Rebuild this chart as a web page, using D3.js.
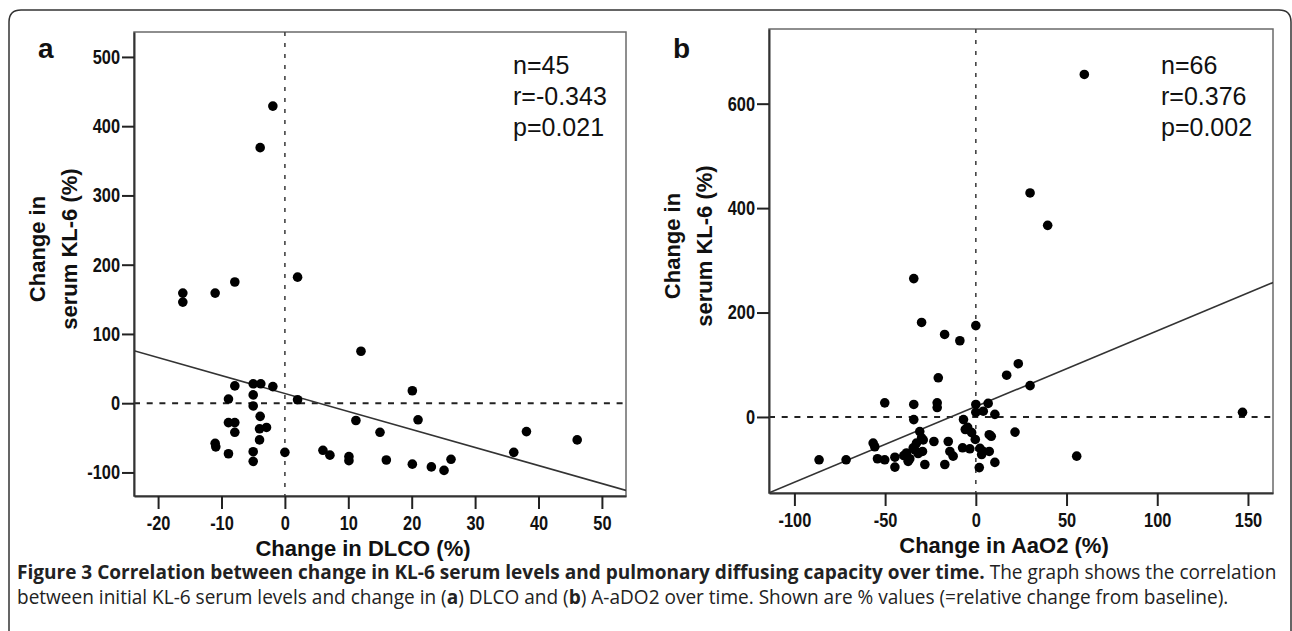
<!DOCTYPE html>
<html>
<head>
<meta charset="utf-8">
<script src="https://cdn.jsdelivr.net/npm/d3@7.9.0/dist/d3.min.js"></script>
<style>
  body { margin: 0; background: #fff; }
  svg { display: block; }
  .tick text {
    font-family: "Liberation Sans", Arial, sans-serif;
    font-weight: bold;
    font-size: 20px;
    fill: #111;
  }
  .axis-title { font-family: "Liberation Sans", Arial, sans-serif; font-weight: bold; font-size: 22px; fill: #111; }
  .stats { font-family: "Liberation Sans", Arial, sans-serif; font-size: 25px; fill: #111; }
  .panel-label { font-family: "Liberation Sans", Arial, sans-serif; font-weight: bold; font-size: 28px; fill: #111; }
  .caption { font-family: "Open Sans", "Noto Sans", sans-serif; fill: #222; }
</style>
</head>
<body>
<svg id="fig" width="1292" height="631"></svg>
<script>
// Panel a: change in DLCO (%) vs change in serum KL-6 (%)
const dlcoChange = [-1.9, -3.9, -16.1, -16.1, -11, -7.9, 2.0, -7.9, -5.0, -3.8,
  -1.9, -8.9, -5.0, -5.0, 2.0, -8.9, -7.9, -7.9, -3.9, -4.0,
  -2.9, -4.0, -11.0, -10.9, -8.9, -5.0, -5.0, 0, 12, 20.1,
  11.2, 21, 15, 6, 7.1, 10.1, 10.1, 16, 20.1, 23.1,
  25.1, 26.2, 36.1, 38.1, 46.1];
const kl6ChangeA = [429, 369, 159, 146, 159, 175, 182, 25, 28, 28,
  24, 6, 12, -4, 5, -28, -28, -42, -19, -37,
  -35, -53, -58, -63, -73, -70, -84, -71, 75, 18,
  -25, -24, -42, -68, -75, -77, -83, -82, -88, -92,
  -97, -81, -71, -41, -53];

// Panel b: change in AaO2 (%) vs change in serum KL-6 (%)
const aao2Change = [59.8, 29.9, 39.6, -34.2, -29.9, -17.2, -8.8, 0, 23.4, 17,
  29.9, -20.7, 147, 55.6, 21.6, -50.2, -34.2, -21.3, -21.3, -34.2,
  0, 0, 6.8, 4.1, 10.5, -6.8, -5.8, -2.3, -0.3, 7.4,
  8.5, -30.9, -29.9, -29, -32.7, -23.1, -15.2, -34.5, -33.6, -29.4,
  -56.6, -55.7, -38.2, -39.7, -36.4, -37.3, -44.6, -44.6, -54.2, -50.2,
  -28.1, -17.1, -14.3, -12.5, -7.3, -3.3, 2.3, 4.1, 7.4, 3.2,
  10.5, 1.9, -86.4, -71.5, -31.8, -4.5];
const kl6ChangeB = [656, 429, 367, 265, 181, 158, 146, 175, 102, 80,
  60, 75, 9, -75, -29, 27, 24, 27, 18, -5,
  24, 9, 26, 11, 5, -5, -24, -30, -43, -34,
  -37, -28, -40, -44, -50, -47, -47, -59, -63, -66,
  -50, -57, -69, -74, -80, -85, -77, -96, -80, -82,
  -91, -91, -66, -75, -59, -61, -60, -66, -66, -72,
  -87, -97, -82, -82, -70, -20];

const xTicksA = [-20, -10, 0, 10, 20, 30, 40, 50];
const yTicksA = [-100, 0, 100, 200, 300, 400, 500];
const xTicksB = [-100, -50, 0, 50, 100, 150];
const yTicksB = [0, 200, 400, 600];

const statsA = ['n=45', 'r=-0.343', 'p=0.021'];
const statsB = ['n=66', 'r=0.376', 'p=0.002'];

// regression lines: [intercept, slope]
const fitA = [14, -2.6];
const fitB = [20, 1.45];

const svg = d3.select('#fig');

// outer frame with rounded top corners
svg.append('path')
  .attr('d', 'M9,640 L9,22 Q9,10 21,10 L1279,10 Q1291,10 1291,22 L1291,640')
  .attr('fill', 'none')
  .attr('stroke', '#333')
  .attr('stroke-width', 1.5);

const panels = [
  {
    label: 'a', xs: dlcoChange, ys: kl6ChangeA, fit: fitA, stats: statsA,
    xTicks: xTicksA, yTicks: yTicksA,
    xDomain: [-23.8, 53.8], yDomain: [-134, 536],
    left: 134, right: 626, top: 32, bottom: 496,
    xTitle: 'Change in DLCO (%)', statsX: 513
  },
  {
    label: 'b', xs: aao2Change, ys: kl6ChangeB, fit: fitB, stats: statsB,
    xTicks: xTicksB, yTicks: yTicksB,
    xDomain: [-114, 163.8], yDomain: [-145.6, 743],
    left: 769, right: 1273, top: 29, bottom: 493,
    xTitle: 'Change in AaO2 (%)', statsX: 1161
  }
];

// tick labels are a narrow face: squeeze them horizontally
const squeeze = 0.82;

panels.forEach((p, idx) => {
  const x = d3.scaleLinear().domain(p.xDomain).range([p.left, p.right]);
  const y = d3.scaleLinear().domain(p.yDomain).range([p.bottom, p.top]);
  const g = svg.append('g');

  const clipId = 'clip' + idx;
  svg.append('clipPath').attr('id', clipId)
    .append('rect')
    .attr('x', p.left).attr('y', p.top)
    .attr('width', p.right - p.left).attr('height', p.bottom - p.top);

  // plot frame
  g.append('rect')
    .attr('x', p.left).attr('y', p.top)
    .attr('width', p.right - p.left).attr('height', p.bottom - p.top)
    .attr('fill', 'none')
    .attr('stroke', '#6a6a6a')
    .attr('stroke-width', 1.5);

  // dashed reference lines at zero
  g.append('line')
    .attr('x1', x(0)).attr('x2', x(0))
    .attr('y1', p.top).attr('y2', p.bottom)
    .attr('stroke', '#444').attr('stroke-width', 1.6)
    .attr('stroke-dasharray', '4,7');
  g.append('line')
    .attr('x1', p.left).attr('x2', p.right)
    .attr('y1', y(0)).attr('y2', y(0))
    .attr('stroke', '#222').attr('stroke-width', 2)
    .attr('stroke-dasharray', '6,6.7');

  // regression line
  const [b0, b1] = p.fit;
  g.append('line')
    .attr('clip-path', `url(#${clipId})`)
    .attr('x1', x(p.xDomain[0])).attr('y1', y(b0 + b1 * p.xDomain[0]))
    .attr('x2', x(p.xDomain[1])).attr('y2', y(b0 + b1 * p.xDomain[1]))
    .attr('stroke', '#333').attr('stroke-width', 1.6);

  // points
  g.append('g')
    .selectAll('circle')
    .data(d3.zip(p.xs, p.ys))
    .join('circle')
    .attr('cx', d => x(d[0]))
    .attr('cy', d => y(d[1]))
    .attr('r', 4.8)
    .attr('fill', '#000');

  // axes
  const yAxis = g.append('g')
    .attr('transform', `translate(${p.left},0)`)
    .call(d3.axisLeft(y).tickValues(p.yTicks).tickSize(12).tickSizeOuter(0)
      .tickPadding(2).tickFormat(d => String(d)));
  const xAxis = g.append('g')
    .attr('transform', `translate(0,${p.bottom})`)
    .call(d3.axisBottom(x).tickValues(p.xTicks).tickSize(13).tickSizeOuter(0)
      .tickPadding(7).tickFormat(d => String(d)));
  [yAxis, xAxis].forEach(a => {
    a.select('.domain').attr('stroke', '#333').attr('stroke-width', 2);
    a.selectAll('.tick line').attr('stroke', '#222').attr('stroke-width', 2);
    a.selectAll('.tick text').each(function() {
      const t = d3.select(this);
      const tx = +t.attr('x') || 0;
      t.attr('x', tx / squeeze).attr('transform', `scale(${squeeze},1)`);
    });
  });

  // axis titles
  const midY = (p.top + p.bottom) / 2 - 15;
  const yTitle = g.append('text')
    .attr('class', 'axis-title')
    .attr('text-anchor', 'middle')
    .attr('transform', `translate(${p.left - 89},${midY}) rotate(-90)`);
  yTitle.append('tspan').attr('x', 0).attr('y', 0).text('Change in');
  yTitle.append('tspan').attr('x', 0).attr('y', 32).text('serum KL-6 (%)');

  g.append('text')
    .attr('class', 'axis-title')
    .attr('text-anchor', 'middle')
    .attr('x', (p.left + p.right) / 2 - 17)
    .attr('y', p.bottom + 60)
    .text(p.xTitle);

  // stats annotation
  g.append('g')
    .selectAll('text')
    .data(p.stats)
    .join('text')
    .attr('class', 'stats')
    .attr('x', p.statsX)
    .attr('y', (d, i) => 74 + i * 31)
    .text(d => d);

  // panel letter
  g.append('text')
    .attr('class', 'panel-label')
    .attr('x', p.left - 96)
    .attr('y', 58)
    .text(p.label);
});

// caption
const cap1 = svg.append('text').attr('class', 'caption').attr('x', 17).attr('y', 579);
cap1.append('tspan').attr('font-weight', 'bold')
  .text('Figure 3 Correlation between change in KL-6 serum levels and pulmonary diffusing capacity over time.');
cap1.append('tspan').text(' The graph shows the correlation');

const cap2 = svg.append('text').attr('class', 'caption').attr('x', 17).attr('y', 604);
cap2.append('tspan').text('between initial KL-6 serum levels and change in (');
cap2.append('tspan').attr('font-weight', 'bold').text('a');
cap2.append('tspan').text(') DLCO and (');
cap2.append('tspan').attr('font-weight', 'bold').text('b');
cap2.append('tspan').text(') A-aDO2 over time. Shown are % values (=relative change from baseline).');

// fit caption size so the first line spans the frame width
let fs = 17;
cap1.attr('font-size', fs);
const w = cap1.node().getComputedTextLength();
fs = fs * 1260 / w;
cap1.attr('font-size', fs);
cap2.attr('font-size', fs);
</script>
</body>
</html>
